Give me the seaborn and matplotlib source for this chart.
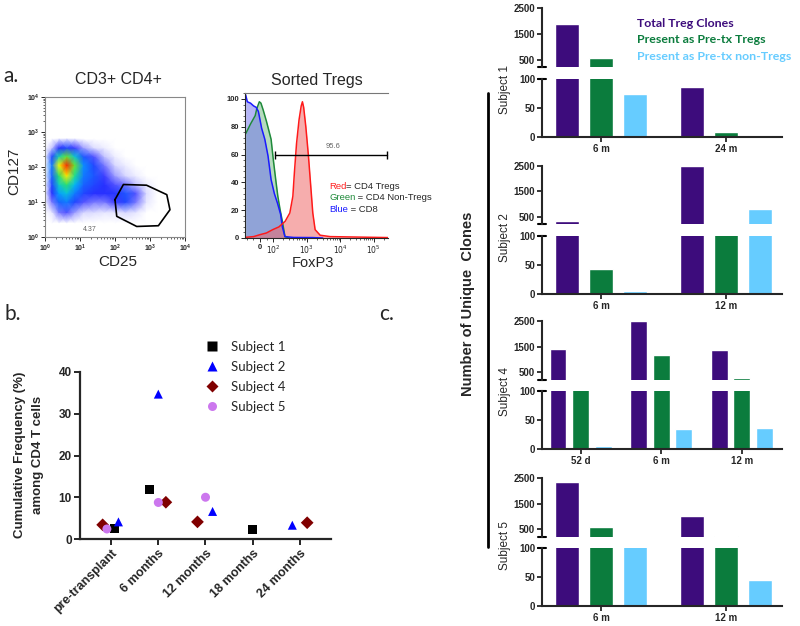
import numpy as np
import pandas as pd
import matplotlib
matplotlib.use("Agg")
import matplotlib.pyplot as plt
import seaborn as sns
from matplotlib.colors import LinearSegmentedColormap
from matplotlib.lines import Line2D
from matplotlib.ticker import MultipleLocator, FixedLocator, NullFormatter

# ================================
# DATA
# ================================
# a. (left) CD3+CD4+ event density, read by eye on a coarse grid (log10 units)
dens_cd25_log = [0.0, 0.2, 0.4, 0.62, 0.85, 1.1, 1.4, 1.7, 2.0, 2.3, 2.6, 2.9, 3.2]
dens_cd127_log = [0.4, 0.7, 1.0, 1.25, 1.5, 1.75, 2.05, 2.3, 2.55, 2.8]
dens_rows = [
    [0, 0, 0, 0, 0, 0, 0, 0, 0, 0, 0, 0, 0],
    [0, 0.3, 1.0, 1.2, 0.8, 0.5, 0.4, 0.3, 0.3, 0.5, 0.3, 0, 0],
    [0, 1.0, 2.2, 2.5, 1.8, 1.2, 1.0, 1.0, 1.3, 1.8, 1.0, 0.3, 0],
    [0, 1.5, 3.0, 3.8, 2.5, 1.8, 1.5, 1.5, 1.6, 2.0, 1.2, 0.4, 0],
    [0, 1.8, 4.2, 5.5, 3.5, 2.2, 1.8, 1.5, 1.2, 1.0, 0.6, 0.2, 0],
    [0, 2.2, 5.5, 7.8, 5.0, 2.5, 2.0, 1.3, 0.8, 0.5, 0.2, 0, 0],
    [0, 2.5, 7.5, 10.0, 6.5, 2.8, 1.8, 1.0, 0.5, 0.2, 0, 0, 0],
    [0, 1.8, 4.5, 6.5, 4.0, 2.0, 1.2, 0.6, 0.2, 0, 0, 0, 0],
    [0, 0.6, 1.5, 1.8, 1.3, 0.8, 0.4, 0.2, 0, 0, 0, 0, 0],
    [0, 0, 0.2, 0.3, 0.2, 0, 0, 0, 0, 0, 0, 0, 0],
]
gate_cd25 = [100, 174, 794, 3020, 3715, 1738, 417, 112, 100]
gate_cd127 = [11.7, 31.6, 30.2, 16.2, 6.0, 2.1, 2.0, 3.9, 11.7]

# a. (right) sorted Tregs, FoxP3 histograms (% of max)
cd8_x = [-107, -95, -71, -48, -29, -12, 12, 36, 60, 83, 107, 133, 165, 186, 222, 400, 1500, 3000]
cd8_y = [103, 98, 97, 95, 94, 91, 79, 71, 59, 42, 32, 25, 17, 8, 1, 0.4, 0.3, 0]
non_x = [-107, -71, -36, -24, -5, 7, 24, 48, 67, 83, 100, 119, 136, 160, 186, 222, 300]
non_y = [75, 82, 88, 93, 98, 97, 92, 84, 77, 71, 56, 41, 30, 20, 12, 1, 0]
treg_x = [-107, -48, 0, 48, 95, 147, 225, 311, 383, 426, 494, 587, 681, 741, 807, 937,
          1122, 1318, 1514, 1778, 2512, 5012, 270000]
treg_y = [0.5, 1, 2.4, 3.6, 6, 8, 12, 18, 30, 47, 68, 85, 95, 98, 94, 80,
          59, 37, 18, 6, 2, 1, 0.3]

# b. cumulative frequency among CD4 T cells
b_times = ["pre-transplant", "6 months", "12 months", "18 months", "24 months"]
b_subjects = ["Subject 1", "Subject 2", "Subject 4", "Subject 5"]
freq_s1 = [2.5, 11.8, np.nan, 2.3, np.nan]
freq_s2 = [4.1, 34.7, 6.6, np.nan, 3.3]
freq_s4 = [3.4, 8.8, 4.1, np.nan, 3.9]
freq_s5 = [2.4, 8.75, 10.0, np.nan, np.nan]
# small sideways shifts used in the original to keep points apart
shift_s1 = [0.07, -0.18, 0, 0, 0]
shift_s2 = [0.155, 0, 0.15, 0, -0.16]
shift_s4 = [-0.18, 0.16, -0.17, 0, 0.155]
shift_s5 = [-0.09, 0, 0, 0, 0]

# c. number of unique clones
c_types = ["Total Treg Clones", "Present as Pre-tx Tregs", "Present as Pre-tx non-Tregs"]
s1_times = ["6 m", "24 m"]
s1_total = [1900, 87]
s1_treg = [580, 8]
s1_non = [74, 3]
s2_times = ["6 m", "12 m"]
s2_total = [340, 2500]
s2_treg = [43, 150]
s2_non = [6, 790]
s4_times = ["52 d", "6 m", "12 m"]
s4_total = [1400, 2500, 1360]
s4_treg = [150, 1180, 290]
s4_non = [6, 35, 37]
s5_times = ["6 m", "12 m"]
s5_total = [2360, 1000]
s5_treg = [580, 240]
s5_non = [150, 46]

# ================================
# STYLE / HELPERS
# ================================
sns.set_style("ticks")
plt.rcParams["font.family"] = ["Liberation Sans", "DejaVu Sans"]

W, H = 800, 626


def fx(x):
    return x / W


def fy(y):
    return 1 - y / H


def box(l, t, r, b):
    return [l / W, 1 - b / H, (r - l) / W, (b - t) / H]


fig = plt.figure(figsize=(8, 6.26), dpi=100)

# ================================
# a. LEFT: CD25 vs CD127
# ================================
ax_f = fig.add_axes(box(45, 97, 185, 237))
flow_cmap = LinearSegmentedColormap.from_list(
    "flow", [(0, "white"), (0.05, "#d4d4ff"), (0.14, "#2a2aff"), (0.33, "#00b4ff"),
             (0.5, "#20e090"), (0.62, "#3ce03c"), (0.76, "#ffff00"), (0.88, "#ff8c00"),
             (1, "#ff2800")])
ax_f.set_xscale("log")
ax_f.set_yscale("log")
ax_f.pcolormesh(10 ** np.array(dens_cd25_log), 10 ** np.array(dens_cd127_log),
                np.array(dens_rows), shading="gouraud", cmap=flow_cmap, vmin=0, vmax=10)
ax_f.plot(gate_cd25, gate_cd127, color="black", lw=1.2)
ax_f.text(18.6, 1.5, "4.37", fontsize=5, color="#666666", ha="center")
ax_f.set_xlim(1, 1e4)
ax_f.set_ylim(1, 1e4)
for s in ax_f.spines.values():
    s.set_color("#888888")
    s.set_linewidth(0.8)
ax_f.tick_params(which="major", length=3, width=0.7, labelsize=5, pad=1)
ax_f.tick_params(which="minor", length=1.5, width=0.5)
for lab in ax_f.get_xticklabels() + ax_f.get_yticklabels():
    lab.set_fontweight("bold")

fig.text(fx(118), fy(80), "CD3+ CD4+", fontsize=11.5, ha="center", va="center")
fig.text(fx(14), fy(171), "CD127", fontsize=11, rotation=90, ha="center", va="center")
fig.text(fx(118), fy(262), "CD25", fontsize=11, ha="center", va="center")

# ================================
# a. RIGHT: FoxP3 histograms
# ================================
ax_h = fig.add_axes(box(245, 93, 388, 238))
ax_h.set_xscale("symlog", linthresh=100, linscale=0.36)
ax_h.fill_between(non_x, non_y, color="#5fb070", alpha=0.45, lw=0)
ax_h.fill_between(cd8_x, cd8_y, color="#6c6cf0", alpha=0.5, lw=0)
ax_h.fill_between(treg_x, treg_y, color="#f06a6a", alpha=0.55, lw=0)
sns.lineplot(x=non_x, y=non_y, color="#1f8a3a", lw=1.1, ax=ax_h, sort=False)
sns.lineplot(x=cd8_x, y=cd8_y, color="#1a1aff", lw=1.1, ax=ax_h, sort=False)
sns.lineplot(x=treg_x, y=treg_y, color="#ff1a1a", lw=1.1, ax=ax_h, sort=False)
ax_h.plot([114, 2.6e5], [60, 60], color="black", lw=1.0, marker="|", ms=6, mew=1.0, clip_on=False)
ax_h.text(6300, 65, "95.6", fontsize=5.5, color="#666666", ha="center")
ax_h.set_xlim(-112, 2.7e5)
ax_h.set_ylim(0, 104.3)
ax_h.spines["right"].set_visible(False)
for s in ax_h.spines.values():
    s.set_linewidth(0.8)
ax_h.spines["top"].set_color("#777777")
ax_h.set_xticks([0, 100, 1000, 1e4, 1e5], ["0", "$10^2$", "$10^3$", "$10^4$", "$10^5$"])
minor_x = [-100, -50, 50] + [m * 10 ** e for e in (2, 3, 4) for m in range(2, 10)] + [2e5]
ax_h.xaxis.set_minor_locator(FixedLocator(minor_x))
ax_h.xaxis.set_minor_formatter(NullFormatter())
ax_h.set_yticks([0, 20, 40, 60, 80, 100])
ax_h.yaxis.set_minor_locator(MultipleLocator(4))
ax_h.tick_params(which="major", length=3, width=0.7, labelsize=5.5, pad=1)
ax_h.tick_params(which="minor", length=1.5, width=0.5)
for lab in ax_h.get_xticklabels() + ax_h.get_yticklabels():
    lab.set_fontweight("bold")

fig.text(fx(317), fy(80), "Sorted Tregs", fontsize=11.5, ha="center", va="center")
fig.text(fx(313), fy(263), "FoxP3", fontsize=10.5, ha="center", va="center")

for word, rest, col, ypix in [("Red", "= CD4 Tregs", "#ff2020", 187),
                              ("Green", " = CD4 Non-Tregs", "#1f8a3a", 198),
                              ("Blue", " = CD8", "#1a1aff", 209)]:
    t = fig.text(fx(329), fy(ypix), word, color=col, fontsize=6.8, va="center")
    ax_h.annotate(rest, xy=(1, 0.5), xycoords=t, fontsize=6.8, va="center", ha="left",
                  annotation_clip=False)

fig.text(fx(3), fy(82), "a.", fontsize=15, family="Lato", va="baseline")

# ================================
# b. CUMULATIVE FREQUENCY
# ================================
rows = []
for subj, vals, shifts in zip(b_subjects, [freq_s1, freq_s2, freq_s4, freq_s5],
                              [shift_s1, shift_s2, shift_s4, shift_s5]):
    for i, (v, d) in enumerate(zip(vals, shifts)):
        if not np.isnan(v):
            rows.append({"subject": subj, "pos": i + d, "freq": v})
df_b = pd.DataFrame(rows)

ax_b = fig.add_axes(box(80, 372, 331, 539))
sns.scatterplot(data=df_b, x="pos", y="freq", hue="subject", style="subject",
                hue_order=b_subjects, style_order=b_subjects,
                palette={"Subject 1": "black", "Subject 2": "#0000ff",
                         "Subject 4": "#800000", "Subject 5": "#cc77ee"},
                markers={"Subject 1": "s", "Subject 2": "^", "Subject 4": "D", "Subject 5": "o"},
                s=42, edgecolor="none", clip_on=False, ax=ax_b)
ax_b.set_xlim(-0.66, 4.66)
ax_b.set_ylim(0, 40)
ax_b.set_xlabel("")
ax_b.set_ylabel("")
sns.despine(ax=ax_b)
for s in ("left", "bottom"):
    ax_b.spines[s].set_linewidth(1.6)
ax_b.set_yticks([0, 10, 20, 30, 40])
ax_b.set_xticks(range(len(b_times)))
ax_b.set_xticklabels(b_times, rotation=45, ha="right", rotation_mode="anchor", fontsize=9,
                     fontweight="bold")
ax_b.tick_params(length=4, width=1.4, pad=2)
ax_b.tick_params(axis="y", labelsize=8.5)
for lab in ax_b.get_yticklabels():
    lab.set_fontweight("bold")

handles, labels = ax_b.get_legend_handles_labels()
ax_b.legend(handles, labels, loc="upper left", bbox_to_anchor=(fx(205), fy(341)),
            bbox_transform=fig.transFigure, frameon=False, borderpad=0, borderaxespad=0,
            handlelength=1, handletextpad=1.0, labelspacing=0.6,
            prop={"family": "Lato", "size": 9.5})

fig.text(fx(20), fy(455), "Cumulative Frequency (%)", rotation=90, fontsize=9.5,
         fontweight="bold", ha="center", va="center")
fig.text(fx(38), fy(455), "among CD4 T cells", rotation=90, fontsize=9.5,
         fontweight="bold", ha="center", va="center")
fig.text(fx(5), fy(320), "b.", fontsize=15, family="Lato", va="baseline")
fig.text(fx(379), fy(320), "c.", fontsize=15, family="Lato", va="baseline")

# ================================
# c. UNIQUE CLONES (broken y axis)
# ================================
c_colors = ["#3d0c7c", "#0b7c3d", "#66ccff"]


def clone_panel(times, total, treg, non, up, low, name, name_y):
    n = len(times)
    df = pd.DataFrame({"time": times * 3,
                       "type": list(np.repeat(c_types, n)),
                       "clones": total + treg + non})
    if n == 2:
        width, gap, xlim = 0.81, 0.296, (-0.472, 1.448)
    else:
        width, gap, xlim = 0.84, 0.257, (-0.48, 2.5)
    ax_u = fig.add_axes(box(542, up[0], 782, up[1]))
    ax_l = fig.add_axes(box(542, low[0], 782, low[1]))
    for ax in (ax_u, ax_l):
        sns.barplot(data=df, x="time", y="clones", hue="type", order=times, hue_order=c_types,
                    palette=c_colors, saturation=1, width=width, gap=gap, errorbar=None,
                    legend=False, ax=ax)
        ax.set_xlim(*xlim)
        ax.set_xlabel("")
        ax.set_ylabel("")
        for s in ("top", "right"):
            ax.spines[s].set_visible(False)
        ax.spines["left"].set_linewidth(1.5)
        ax.spines["bottom"].set_linewidth(1.5)
        ax.tick_params(length=3.5, width=1.3, labelsize=7, pad=1.5)
    ax_u.set_ylim(200, 2500)
    ax_u.set_yticks([500, 1500, 2500])
    ax_u.spines["bottom"].set_visible(False)
    ax_u.tick_params(axis="x", bottom=False, labelbottom=False)
    ax_l.set_ylim(0, 100)
    ax_l.set_yticks([0, 50, 100])
    # break marks
    ax_u.plot([-0.015, 0.015], [0, 0], transform=ax_u.transAxes, color="black", lw=1.5,
              clip_on=False)
    ax_l.plot([-0.015, 0.015], [1, 1], transform=ax_l.transAxes, color="black", lw=1.5,
              clip_on=False)
    for ax in (ax_u, ax_l):
        for lab in ax.get_xticklabels() + ax.get_yticklabels():
            lab.set_fontweight("bold")
    fig.text(fx(505), fy(name_y), name, rotation=90, fontsize=8.5, ha="center", va="center")


clone_panel(s1_times, s1_total, s1_treg, s1_non, (8.3, 67.3), (79, 137), "Subject 1", 89)
clone_panel(s2_times, s2_total, s2_treg, s2_non, (165.7, 224.3), (235.7, 294), "Subject 2", 238)
clone_panel(s4_times, s4_total, s4_treg, s4_non, (321, 380), (391, 449.3), "Subject 4", 392)
clone_panel(s5_times, s5_total, s5_treg, s5_non, (478, 537), (548.3, 606.3), "Subject 5", 545)

for label, col, ypix in zip(c_types, c_colors, [23.3, 39.3, 56]):
    fig.text(fx(637), fy(ypix), label, color=col, fontsize=8.9, fontweight="bold",
             family="Lato", va="center")

fig.add_artist(Line2D([fx(488), fx(488)], [fy(93), fy(547)], color="black", lw=2))
fig.text(fx(468), fy(304), "Number of Unique  Clones", rotation=90, fontsize=10.5,
         fontweight="bold", ha="center", va="center")

fig.savefig("out.png", dpi=100)
